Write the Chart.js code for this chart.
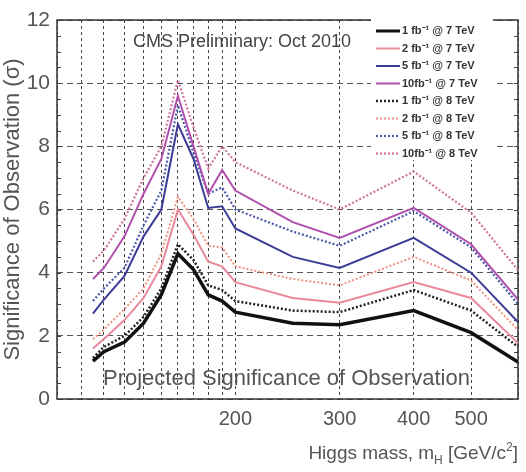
<!DOCTYPE html>
<html>
<head>
<meta charset="utf-8">
<script src="https://cdn.jsdelivr.net/npm/chart.js@4.4.1/dist/chart.umd.min.js"></script>
<style>
    body { margin: 0; background: #fff; }
</style>
</head>
<body>
<canvas id="chart-significance" width="526" height="472"></canvas>

<script>
    // Higgs masses (GeV/c^2) and projected significance per scenario
    const masses = [115, 120, 130, 140, 150, 160, 170, 180, 190, 200, 250, 300, 400, 500, 600];

    const sig1fb7  = [1.2, 1.5, 1.8, 2.4, 3.3, 4.6, 4.1, 3.3, 3.1, 2.75, 2.4, 2.35, 2.8, 2.1, 1.17];
    const sig2fb7  = [1.6, 1.9, 2.5, 3.2, 4.2, 6.0, 5.2, 4.35, 4.2, 3.7, 3.2, 3.05, 3.7, 3.2, 1.77];
    const sig5fb7  = [2.7, 3.15, 3.9, 5.15, 6.0, 8.7, 7.6, 6.05, 6.1, 5.4, 4.5, 4.15, 5.1, 4.0, 2.44];
    const sig10fb7 = [3.8, 4.15, 5.15, 6.5, 7.6, 9.6, 8.0, 6.5, 7.25, 6.6, 5.6, 5.1, 6.05, 4.9, 3.15];
    const sig1fb8  = [1.3, 1.65, 2.0, 2.6, 3.5, 4.9, 4.4, 3.6, 3.45, 3.1, 2.8, 2.75, 3.45, 2.8, 1.65];
    const sig2fb8  = [1.9, 2.2, 2.85, 3.5, 4.6, 6.4, 5.7, 4.85, 4.8, 4.2, 3.8, 3.6, 4.5, 3.75, 2.18];
    const sig5fb8  = [3.1, 3.5, 4.15, 5.5, 6.6, 9.3, 7.8, 6.5, 6.7, 6.0, 5.3, 4.85, 5.95, 4.8, 3.0];
    const sig10fb8 = [4.35, 4.7, 5.7, 7.0, 8.0, 10.1, 8.6, 7.3, 8.0, 7.5, 6.6, 6.0, 7.2, 5.9, 4.08];

    const seriesLabels = [
        '1 fb\u207B\u00B9 @ 7 TeV',
        '2 fb\u207B\u00B9 @ 7 TeV',
        '5 fb\u207B\u00B9 @ 7 TeV',
        '10fb\u207B\u00B9 @ 7 TeV',
        '1 fb\u207B\u00B9 @ 8 TeV',
        '2 fb\u207B\u00B9 @ 8 TeV',
        '5 fb\u207B\u00B9 @ 8 TeV',
        '10fb\u207B\u00B9 @ 8 TeV'
    ];

    // grid positions on the mass axis, only some of them get a label
    const xGridTicks = [100, 110, 120, 130, 140, 150, 160, 170, 180, 190, 200, 300, 400, 500, 600];
    const xLabelTicks = [200, 300, 400, 500];
    const yTicks = [0, 2, 4, 6, 8, 10, 12];

    function pts(vals) {
        return vals.map(function (v, i) { return { x: masses[i], y: v }; });
    }

    function line(label, vals, color, width, dash) {
        return {
            label: label,
            data: pts(vals),
            borderColor: color,
            backgroundColor: color,
            borderWidth: width,
            borderDash: dash,
            pointRadius: 0,
            tension: 0,
            fill: false
        };
    }

    const dots = [2, 2];

    const data = {
        datasets: [
            line(seriesLabels[0], sig1fb7,  '#111111', 3.5, []),
            line(seriesLabels[1], sig2fb7,  '#e8899b', 2, []),
            line(seriesLabels[2], sig5fb7,  '#3b3c96', 2, []),
            line(seriesLabels[3], sig10fb7, '#b04fae', 2, []),
            line(seriesLabels[4], sig1fb8,  '#222222', 2.5, dots),
            line(seriesLabels[5], sig2fb8,  '#ef917f', 2, dots),
            line(seriesLabels[6], sig5fb8,  '#4a58aa', 2.2, dots),
            line(seriesLabels[7], sig10fb8, '#d0739f', 2.2, dots)
        ]
    };

    const frameAndMinorTicks = {
        id: 'frameAndMinorTicks',
        beforeDatasetsDraw: function (chart) {
            const ctx = chart.ctx;
            const a = chart.chartArea;
            const ys = chart.scales.y;
            ctx.save();
            ctx.strokeStyle = '#444';
            ctx.lineWidth = 1;
            ctx.beginPath();
            for (let v = 0.5; v < 12; v += 0.5) {
                const py = Math.round(ys.getPixelForValue(v)) + 0.5;
                ctx.moveTo(a.left, py);
                ctx.lineTo(a.left + 4, py);
                ctx.moveTo(a.right, py);
                ctx.lineTo(a.right - 4, py);
            }
            ctx.stroke();
            ctx.lineWidth = 1.5;
            ctx.strokeStyle = '#333';
            ctx.strokeRect(a.left, a.top, a.right - a.left, a.bottom - a.top);
            ctx.restore();
        }
    };

    const textAndLegend = {
        id: 'textAndLegend',
        afterDatasetsDraw: function (chart) {
            const ctx = chart.ctx;
            const a = chart.chartArea;
            ctx.save();

            // white legend panel over the grid
            ctx.fillStyle = '#fff';
            ctx.fillRect(371, 17, 122, 143);

            ctx.textBaseline = 'middle';
            ctx.font = 'bold 11px "Liberation Sans"';
            chart.data.datasets.forEach(function (ds, i) {
                const yy = 31 + i * 17.5;
                ctx.strokeStyle = ds.borderColor;
                ctx.lineWidth = Math.min(ds.borderWidth, 3);
                ctx.setLineDash(ds.borderDash);
                ctx.beginPath();
                ctx.moveTo(376, yy);
                ctx.lineTo(400, yy);
                ctx.stroke();
                ctx.setLineDash([]);
                ctx.fillStyle = '#333';
                ctx.fillText(ds.label, 402, yy);
            });

            ctx.fillStyle = '#444';
            ctx.font = '18px "Liberation Sans"';
            ctx.fillText('CMS Preliminary: Oct 2010', 133, 42);

            ctx.fillStyle = '#555';
            ctx.font = '22px "Liberation Sans"';
            ctx.fillText('Projected Significance of Observation', 103, 379);

            // x axis title with sub/superscript
            ctx.fillStyle = '#555';
            ctx.textBaseline = 'alphabetic';
            const base = 459;
            const parts = [
                ['Higgs mass, m', 19, 0],
                ['H', 12, 5],
                [' [GeV/c', 19, 0],
                ['2', 12, -8],
                [']', 19, 0]
            ];
            let total = 0;
            parts.forEach(function (p) {
                ctx.font = p[1] + 'px "Liberation Sans"';
                total += ctx.measureText(p[0]).width;
            });
            let xx = a.right - total;
            parts.forEach(function (p) {
                ctx.font = p[1] + 'px "Liberation Sans"';
                ctx.fillText(p[0], xx, base + p[2]);
                xx += ctx.measureText(p[0]).width;
            });
            ctx.restore();
        }
    };

    const config = {
        type: 'line',
        data: data,
        options: {
            responsive: false,
            animation: false,
            layout: {
                padding: { top: 20, right: 5, left: 0, bottom: 0 }
            },
            plugins: {
                legend: { display: false },
                tooltip: { enabled: false }
            },
            scales: {
                x: {
                    type: 'logarithmic',
                    min: 100,
                    max: 600,
                    afterBuildTicks: function (scale) {
                        scale.ticks = xGridTicks.map(function (v) { return { value: v }; });
                    },
                    afterFit: function (scale) { scale.height = 73; },
                    border: { display: false, dash: [3, 3] },
                    grid: {
                        drawTicks: false,
                        color: '#444',
                        lineWidth: 1
                    },
                    ticks: {
                        autoSkip: false,
                        maxRotation: 0,
                        padding: 8,
                        color: '#555',
                        font: { family: 'Liberation Sans', size: 20 },
                        callback: function (v) {
                            return xLabelTicks.indexOf(v) >= 0 ? String(v) : '';
                        }
                    }
                },
                y: {
                    min: 0,
                    max: 12,
                    afterBuildTicks: function (scale) {
                        scale.ticks = yTicks.map(function (v) { return { value: v }; });
                    },
                    afterFit: function (scale) { scale.width = 57; },
                    border: { display: false, dash: [6, 4] },
                    grid: {
                        drawTicks: false,
                        color: '#555',
                        lineWidth: 1
                    },
                    ticks: {
                        padding: 7,
                        color: '#555',
                        font: { family: 'Liberation Sans', size: 21 }
                    },
                    title: {
                        display: true,
                        text: 'Significance of Observation (\u03C3)',
                        color: '#555',
                        padding: { top: 0, bottom: 0 },
                        font: { family: 'Liberation Sans', size: 22 }
                    }
                }
            }
        },
        plugins: [frameAndMinorTicks, textAndLegend]
    };

    var chartSignificance = new Chart(
        document.getElementById('chart-significance'),
        config
    );
</script>
</body>
</html>
